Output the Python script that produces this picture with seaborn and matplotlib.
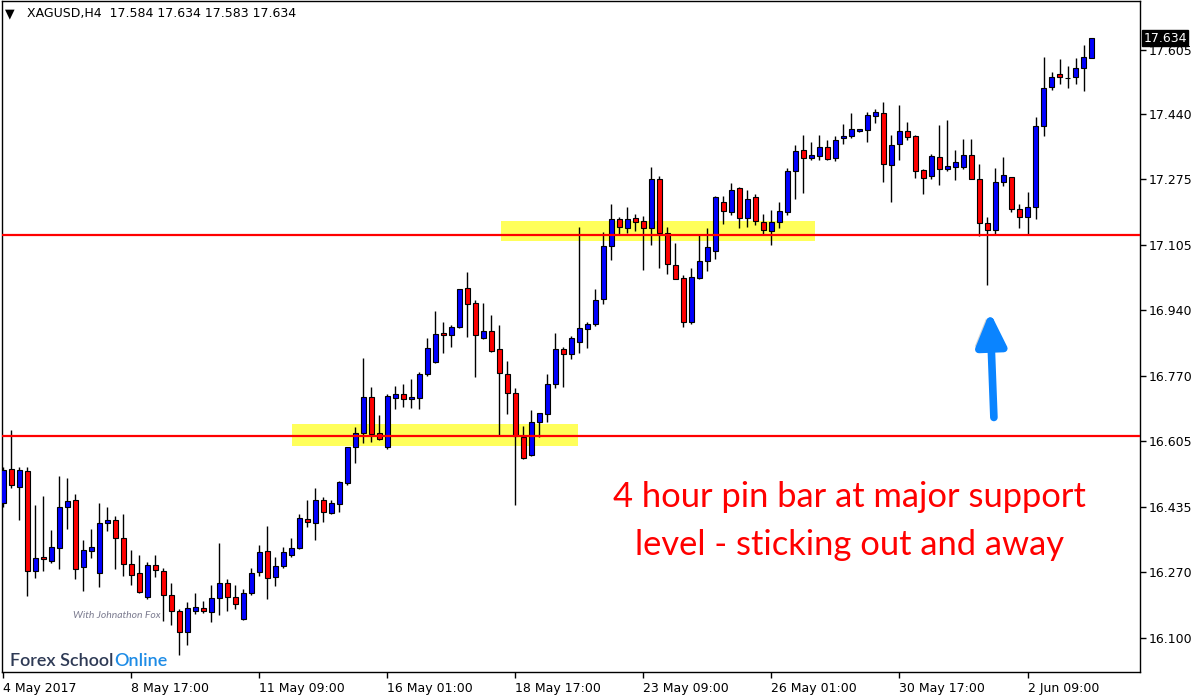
import matplotlib
matplotlib.use("Agg")
import matplotlib.pyplot as plt
import matplotlib.patheffects as pe
from matplotlib.patches import Rectangle
from matplotlib.transforms import blended_transform_factory
import numpy as np
import pandas as pd
import seaborn as sns

sns.set_theme(style="white")
plt.rcParams["font.family"] = ["DejaVu Sans"]

# XAGUSD H4 bars, 4 May 2017 01:00 -> 2 Jun 2017 13:00
opens = [
    16.444, 16.531, 16.487, 16.527, 16.272, 16.307, 16.298, 16.329, 16.436, 16.452,
    16.282, 16.322, 16.267, 16.393, 16.402, 16.355, 16.288, 16.265, 16.205, 16.286,
    16.271, 16.209, 16.168, 16.116, 16.169, 16.176, 16.167, 16.201, 16.240, 16.204,
    16.148, 16.214, 16.268, 16.322, 16.255, 16.283, 16.311, 16.329, 16.404, 16.393,
    16.452, 16.420, 16.442, 16.497, 16.589, 16.625, 16.716, 16.623, 16.589, 16.714,
    16.723, 16.710, 16.713, 16.774, 16.805, 16.879, 16.874, 16.896, 16.994, 16.956,
    16.866, 16.884, 16.838, 16.774, 16.726, 16.613, 16.567, 16.652, 16.672, 16.749,
    16.838, 16.826, 16.858, 16.889, 16.902, 16.966, 17.102, 17.171, 17.148, 17.173,
    17.166, 17.148, 17.273, 17.135, 17.053, 17.020, 16.907, 17.020, 17.063, 17.091,
    17.214, 17.189, 17.250, 17.173, 17.227, 17.163, 17.140, 17.163, 17.189, 17.294,
    17.347, 17.327, 17.332, 17.357, 17.327, 17.378, 17.383, 17.396, 17.398, 17.434,
    17.442, 17.309, 17.363, 17.396, 17.383, 17.296, 17.281, 17.329, 17.299, 17.304,
    17.304, 17.334, 17.273, 17.161, 17.143, 17.265, 17.278, 17.196, 17.176, 17.201,
    17.409, 17.508, 17.542, 17.532, 17.534, 17.557, 17.584,
]
highs = [
    16.538, 16.632, 16.538, 16.538, 16.440, 16.463, 16.376, 16.514, 16.508, 16.468,
    16.351, 16.379, 16.445, 16.434, 16.412, 16.417, 16.324, 16.312, 16.295, 16.312,
    16.280, 16.240, 16.175, 16.192, 16.215, 16.195, 16.236, 16.343, 16.251, 16.236,
    16.225, 16.278, 16.337, 16.386, 16.306, 16.332, 16.355, 16.417, 16.453, 16.483,
    16.460, 16.452, 16.501, 16.588, 16.640, 16.815, 16.742, 16.670, 16.723, 16.744,
    16.749, 16.762, 16.780, 16.866, 16.936, 16.908, 16.900, 16.993, 17.035, 16.964,
    16.956, 16.925, 16.900, 16.808, 16.739, 16.642, 16.682, 16.676, 16.774, 16.879,
    16.845, 16.872, 17.150, 16.907, 16.992, 17.138, 17.209, 17.176, 17.201, 17.184,
    17.178, 17.304, 17.282, 17.150, 17.110, 17.028, 17.045, 17.132, 17.148, 17.230,
    17.230, 17.263, 17.253, 17.247, 17.235, 17.184, 17.194, 17.214, 17.301, 17.361,
    17.386, 17.368, 17.386, 17.373, 17.383, 17.414, 17.442, 17.402, 17.444, 17.452,
    17.470, 17.386, 17.462, 17.419, 17.386, 17.299, 17.337, 17.411, 17.424, 17.347,
    17.375, 17.375, 17.311, 17.176, 17.301, 17.329, 17.280, 17.209, 17.240, 17.432,
    17.585, 17.547, 17.580, 17.562, 17.583, 17.616, 17.634,
]
lows = [
    16.435, 16.484, 16.402, 16.208, 16.254, 16.272, 16.293, 16.277, 16.379, 16.250,
    16.221, 16.304, 16.231, 16.374, 16.277, 16.259, 16.236, 16.216, 16.200, 16.255,
    16.144, 16.134, 16.057, 16.081, 16.162, 16.165, 16.142, 16.159, 16.170, 16.175,
    16.145, 16.210, 16.259, 16.200, 16.234, 16.278, 16.308, 16.327, 16.383, 16.351,
    16.396, 16.418, 16.421, 16.491, 16.547, 16.599, 16.602, 16.606, 16.583, 16.685,
    16.691, 16.689, 16.686, 16.770, 16.803, 16.830, 16.845, 16.894, 16.871, 16.767,
    16.864, 16.831, 16.619, 16.672, 16.439, 16.557, 16.565, 16.613, 16.652, 16.739,
    16.741, 16.814, 16.830, 16.842, 16.897, 16.953, 17.066, 17.130, 17.135, 17.142,
    17.040, 17.106, 17.045, 17.032, 17.017, 16.896, 16.902, 17.017, 17.038, 17.068,
    17.158, 17.181, 17.148, 17.150, 17.155, 17.132, 17.104, 17.148, 17.181, 17.223,
    17.237, 17.322, 17.322, 17.322, 17.320, 17.363, 17.378, 17.395, 17.368, 17.416,
    17.267, 17.214, 17.322, 17.373, 17.276, 17.235, 17.273, 17.258, 17.294, 17.271,
    17.299, 17.273, 17.127, 17.004, 17.132, 17.255, 17.189, 17.148, 17.130, 17.171,
    17.383, 17.501, 17.516, 17.506, 17.516, 17.498, 17.583,
]
closes = [
    16.530, 16.490, 16.530, 16.272, 16.305, 16.301, 16.333, 16.434, 16.450, 16.277,
    16.324, 16.333, 16.393, 16.402, 16.355, 16.288, 16.262, 16.218, 16.286, 16.273,
    16.209, 16.170, 16.115, 16.176, 16.179, 16.169, 16.201, 16.240, 16.204, 16.186,
    16.214, 16.265, 16.319, 16.253, 16.283, 16.319, 16.329, 16.406, 16.396, 16.452,
    16.421, 16.444, 16.498, 16.588, 16.623, 16.716, 16.622, 16.608, 16.719, 16.723,
    16.710, 16.716, 16.774, 16.841, 16.877, 16.874, 16.895, 16.992, 16.953, 16.874,
    16.884, 16.833, 16.777, 16.726, 16.617, 16.560, 16.652, 16.675, 16.749, 16.838,
    16.826, 16.866, 16.892, 16.902, 16.964, 17.102, 17.171, 17.150, 17.171, 17.163,
    17.148, 17.273, 17.135, 17.056, 17.017, 16.907, 17.022, 17.063, 17.099, 17.227,
    17.191, 17.247, 17.173, 17.224, 17.166, 17.143, 17.163, 17.191, 17.294, 17.345,
    17.327, 17.334, 17.355, 17.324, 17.373, 17.383, 17.401, 17.401, 17.437, 17.444,
    17.311, 17.360, 17.396, 17.381, 17.294, 17.276, 17.332, 17.299, 17.306, 17.317,
    17.334, 17.273, 17.161, 17.143, 17.265, 17.283, 17.196, 17.176, 17.201, 17.409,
    17.506, 17.534, 17.534, 17.533, 17.557, 17.585, 17.634,
]

symbol = "XAGUSD,H4"
date_labels = ["4 May 2017", "8 May 17:00", "11 May 09:00", "16 May 01:00",
               "18 May 17:00", "23 May 09:00", "26 May 01:00", "30 May 17:00",
               "2 Jun 09:00"]
bars_per_label = 16
price_ticks = [17.605, 17.440, 17.275, 17.105, 16.940, 16.770, 16.605, 16.435,
               16.270, 16.100]
levels = [17.131, 16.617]
# zones: first bar, last bar, low price, high price
zone_start = [36.1, 62.2]
zone_end = [71.8, 101.4]
zone_low = [16.592, 17.115]
zone_high = [16.647, 17.166]
pin_bar = 123
note = "4 hour pin bar at major support\nlevel - sticking out and away"

df = pd.DataFrame({"open": opens, "high": highs, "low": lows, "close": closes})
df["bar"] = np.arange(len(df))
df["bull"] = df["close"] >= df["open"]

fig = plt.figure(figsize=(12, 7), dpi=100)
fig.patch.set_facecolor("white")
ax = fig.add_axes([0.0015, 0.04, 0.9485, 0.9585])
ax.set_facecolor("white")

for x0, x1, y0, y1 in zip(zone_start, zone_end, zone_low, zone_high):
    ax.add_patch(Rectangle((x0, y0), x1 - x0, y1 - y0, color="#FFFF5A", lw=0, zorder=1))

ax.vlines(df["bar"], df["low"], df["high"], color="black", lw=1, zorder=2)
body_bottom = df[["open", "close"]].min(axis=1)
body_height = (df["close"] - df["open"]).abs()
ax.bar(df["bar"], body_height, bottom=body_bottom, width=0.6,
       color=np.where(df["bull"], "#0000FF", "#FF0000"),
       edgecolor="black", linewidth=0.8, zorder=3)

for lvl in levels:
    ax.axhline(lvl, color="#FF0000", lw=1.6, zorder=4)

ax.set_xlim(-0.19, 142.06)
ax.set_ylim(16.013, 17.729)

ax.yaxis.tick_right()
ax.set_yticks(price_ticks)
ax.set_yticklabels([f"{p:.3f}" for p in price_ticks])
ax.set_xticks(np.arange(len(date_labels)) * bars_per_label)
ax.set_xticklabels(date_labels, ha="left")
ax.tick_params(axis="y", direction="out", length=4, width=1, pad=2,
               labelsize=9, colors="black", right=True, left=False)
ax.tick_params(axis="x", direction="out", length=4, width=1, pad=3,
               labelsize=9, colors="black", bottom=True)
for s in ax.spines.values():
    s.set_color("black")
    s.set_linewidth(1)

# current price marker
trans = blended_transform_factory(ax.transAxes, ax.transData)
ax.text(1.003, df["close"].iloc[-1], f"{df['close'].iloc[-1]:.3f}", transform=trans,
        color="white", fontsize=9, va="center", ha="left", clip_on=False, zorder=10,
        bbox=dict(boxstyle="square,pad=0.12", fc="black", ec="black"))

# header
last = df.iloc[-1]
fig.text(0.004, 0.98, "▼", fontsize=9, va="center", ha="left", color="black")
fig.text(0.0225, 0.98, f"{symbol}  {last['open']:.3f} {last['high']:.3f} "
         f"{last['low']:.3f} {last['close']:.3f}", fontsize=9, va="center",
         ha="left", color="black")

# note and arrow
ax.text(0.745, 0.225, note, transform=ax.transAxes, color="#FF0000", fontsize=24.8,
        family=["Lato", "DejaVu Sans"], ha="center", va="center", linespacing=1.58,
        zorder=6)
low_pin = df["low"].iloc[pin_bar]
arr = ax.annotate("", xy=(pin_bar + 0.3, low_pin - 0.07),
                  xytext=(pin_bar + 0.8, low_pin - 0.34),
                  arrowprops=dict(arrowstyle="-|>,head_length=1.0,head_width=0.45",
                                  mutation_scale=20, lw=5.5, color="#0A84FF",
                                  capstyle="round", shrinkA=0, shrinkB=0),
                  zorder=6)
arr.arrow_patch.set_path_effects([
    pe.SimplePatchShadow(offset=(-3, 2), shadow_rgbFace="gray", alpha=0.35),
    pe.Normal()])

# logo
fig.text(0.061, 0.121, "With Johnathon Fox", fontsize=7.5, style="italic",
         color="#7c7c90", family=["Lato", "DejaVu Sans"], va="center", ha="left")
fig.text(0.008, 0.056, "Forex School", fontsize=13, color="#2E3A55",
         family=["Lato", "DejaVu Sans"], va="center", ha="left", weight="semibold")
fig.text(0.095, 0.056, "Online", fontsize=13, color="#1E8CE6",
         family=["Lato", "DejaVu Sans"], va="center", ha="left", weight="semibold")

fig.savefig("out.png", dpi=100, facecolor="white")
